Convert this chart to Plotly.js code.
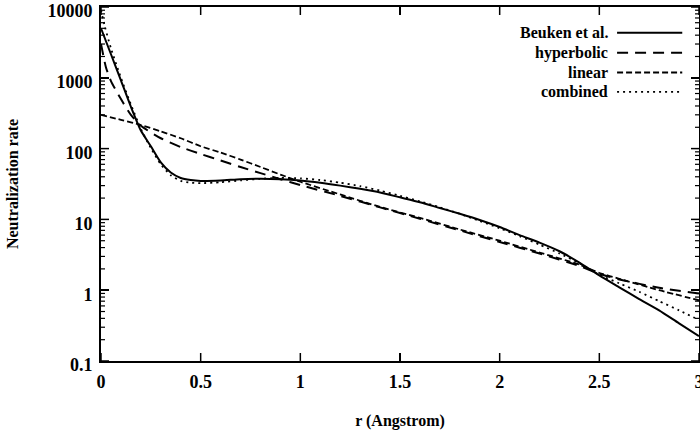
<!DOCTYPE html>
<html>
<head>
<meta charset="utf-8">
<script src="https://cdn.plot.ly/plotly-3.0.1.min.js"></script>
<style>html,body{margin:0;padding:0;background:#fff;}#chart{width:700px;height:436px;}</style>
</head>
<body>
<div id="chart"></div>
<script>
// ---- data ----
const beukenX = [0, 0.05, 0.1, 0.15, 0.2, 0.25, 0.3, 0.35, 0.4, 0.45, 0.5, 0.6, 0.7, 0.8, 0.9, 1.0, 1.1, 1.2, 1.3, 1.4, 1.5, 1.6, 1.7, 1.8, 1.9, 2.0, 2.1, 2.2, 2.3, 2.4, 2.5, 2.6, 2.7, 2.8, 2.9, 3.0];
const beukenY = [5000, 2150, 920, 390, 180, 108, 64, 46, 38.5, 36, 35, 35.5, 37, 37.5, 37, 35.5, 33, 30, 27, 24, 20.5, 17.5, 14.5, 12, 9.8, 7.8, 6.0, 4.7, 3.55, 2.45, 1.62, 1.1, 0.75, 0.52, 0.34, 0.225];

const combinedX = [0, 0.02, 0.05, 0.1, 0.15, 0.2, 0.25, 0.3, 0.35, 0.4, 0.45, 0.5, 0.6, 0.7, 0.8, 0.9, 1.0, 1.1, 1.2, 1.3, 1.4, 1.5, 1.6, 1.7, 1.8, 1.9, 2.0, 2.1, 2.2, 2.3, 2.4, 2.5, 2.6, 2.7, 2.8, 2.9, 3.0];
const combinedY = [9000, 5200, 2600, 1000, 420, 190, 102, 60, 42, 35, 33, 32.5, 33.5, 35.5, 37.5, 38.5, 38, 36, 33, 29.5, 25.5, 21.5, 18, 14.8, 12, 9.5, 7.5, 5.8, 4.4, 3.3, 2.4, 1.65, 1.25, 0.95, 0.7, 0.52, 0.38];

const hyperbolicX = [0, 0.025, 0.05, 0.1, 0.15, 0.2, 0.3, 0.4, 0.5, 0.6, 0.7, 0.8, 0.9, 1.0, 1.2, 1.4, 1.6, 1.8, 2.0, 2.2, 2.4, 2.5, 2.6, 2.8, 3.0];
const hyperbolicY = [3000, 1400, 900, 500, 300, 210, 140, 105, 84, 68, 55, 45, 37, 30.5, 21.5, 14.8, 10.2, 7.0, 4.8, 3.3, 2.2, 1.7, 1.42, 1.08, 0.9];

const linearX = [0, 0.1, 0.2, 0.3, 0.4, 0.5, 0.6, 0.7, 0.8, 0.9, 1.0, 1.2, 1.4, 1.6, 1.8, 2.0, 2.2, 2.4, 2.5, 2.6, 2.8, 3.0];
const linearY = [300, 255, 215, 175, 140, 108, 88, 70, 55, 43, 34, 22.5, 15, 10.5, 7.2, 5.0, 3.4, 2.3, 1.75, 1.45, 1.0, 0.72];

const seriesNames = ["Beuken et al.", "hyperbolic", "linear", "combined"];
const xTickVals = [0, 0.5, 1, 1.5, 2, 2.5, 3];
const xTickText = ["0", "0.5", "1", "1.5", "2", "2.5", "3"];
const yTickVals = [0.1, 1, 10, 100, 1000, 10000];
const yTickText = ["0.1", "1", "10", "100", "1000", "10000"];
const yMinorTickVals = [0.2, 0.3, 0.4, 0.5, 0.6, 0.7, 0.8, 0.9,
  2, 3, 4, 5, 6, 7, 8, 9,
  20, 30, 40, 50, 60, 70, 80, 90,
  200, 300, 400, 500, 600, 700, 800, 900,
  2000, 3000, 4000, 5000, 6000, 7000, 8000, 9000];

// ---- styling ----
const FONT = "Liberation Serif";
const dashes = ["solid", "11px,7px", "6px,3px", "2px,4px"];
const widths = [2, 2, 1.8, 1.8];

const xs = [beukenX, hyperbolicX, linearX, combinedX];
const ys = [beukenY, hyperbolicY, linearY, combinedY];

const traces = xs.map((x, i) => ({
  x: x, y: ys[i], type: "scatter", mode: "lines", name: seriesNames[i],
  line: {color: "#000", width: widths[i], dash: dashes[i], shape: "spline", smoothing: 0.6},
  showlegend: false
}));

// legend built as text + sample lines
const legRowsY = [0.927, 0.871, 0.815, 0.760];
const annotations = seriesNames.map((n, i) => ({
  xref: "paper", yref: "paper", x: 0.85, y: legRowsY[i], xanchor: "right", yanchor: "middle", align: "right",
  text: n, showarrow: false, borderpad: 0, font: {family: FONT, size: 16, color: "#000", weight: "bold"}
}));
const shapes = seriesNames.map((n, i) => ({
  type: "line", xref: "paper", yref: "paper", x0: 0.863, x1: 0.972, y0: legRowsY[i], y1: legRowsY[i],
  line: {color: "#000", width: widths[i], dash: dashes[i]}
}));

// tick marks (inside, on all four sides), placed through the axes' own scales
const PLOT_W = 598, PLOT_H = 354;
const majorLen = 8, minorLen = 4;
const tickLine = {color: "#000", width: 1.5};
const minorLine = {color: "#000", width: 1.2};
xTickVals.forEach(v => {
  shapes.push({type: "line", xref: "x", yref: "paper", x0: v, x1: v, y0: 0, y1: majorLen / PLOT_H, line: tickLine, layer: "above"});
  shapes.push({type: "line", xref: "x", yref: "paper", x0: v, x1: v, y0: 1, y1: 1 - majorLen / PLOT_H, line: tickLine, layer: "above"});
});
yTickVals.forEach(v => {
  shapes.push({type: "line", xref: "paper", yref: "y", x0: 0, x1: majorLen / PLOT_W, y0: v, y1: v, line: tickLine, layer: "above"});
  shapes.push({type: "line", xref: "paper", yref: "y", x0: 1, x1: 1 - majorLen / PLOT_W, y0: v, y1: v, line: tickLine, layer: "above"});
});
yMinorTickVals.forEach(v => {
  shapes.push({type: "line", xref: "paper", yref: "y", x0: 0, x1: minorLen / PLOT_W, y0: v, y1: v, line: minorLine, layer: "above"});
  shapes.push({type: "line", xref: "paper", yref: "y", x0: 1, x1: 1 - minorLen / PLOT_W, y0: v, y1: v, line: minorLine, layer: "above"});
});

const layout = {
  width: 700, height: 436,
  margin: {l: 101, r: 1, t: 7, b: 75},
  paper_bgcolor: "#fff", plot_bgcolor: "#fff",
  font: {family: FONT, color: "#000", size: 17},
  showlegend: false,
  xaxis: {
    range: [0, 3], tickvals: xTickVals, ticktext: xTickText,
    ticks: "inside", ticklen: majorLen, tickwidth: 1.5, tickcolor: "#000",
    showline: true, linecolor: "#000", linewidth: 1.8, mirror: "ticks",
    showgrid: false, zeroline: false, ticklabelstandoff: 4, ticklabeloverflow: "allow",
    tickfont: {family: FONT, size: 18, color: "#000", weight: "bold"},
    title: {text: "r (Angstrom)", font: {family: FONT, size: 16, color: "#000", weight: "bold"}, standoff: 23}
  },
  yaxis: {
    type: "log", range: [-1, 4], tickvals: yTickVals, ticktext: yTickText,
    ticks: "inside", ticklen: majorLen, tickwidth: 1.5, tickcolor: "#000",
    showline: true, linecolor: "#000", linewidth: 1.8, mirror: "ticks",
    showgrid: false, zeroline: false, ticklabelstandoff: 3, ticklabelshift: 4, ticklabeloverflow: "allow",
    tickfont: {family: FONT, size: 18, color: "#000", weight: "bold"},
    title: {text: "Neutralization rate", font: {family: FONT, size: 16, color: "#000", weight: "bold"}, standoff: 25}
  },
  annotations: annotations,
  shapes: shapes
};

Plotly.newPlot("chart", traces, layout, {displayModeBar: false, staticPlot: true});
</script>
</body>
</html>
